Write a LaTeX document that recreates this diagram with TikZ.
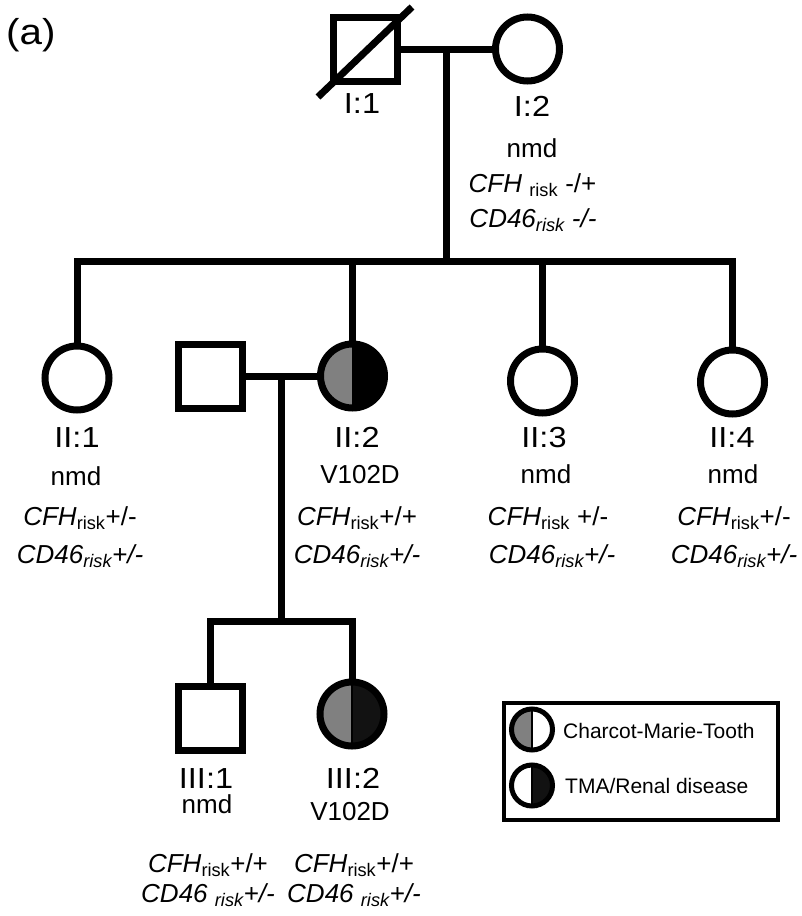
\documentclass[tikz,border=0pt]{standalone}
\usepackage{fontspec}
\setmainfont{Liberation Sans}
\newfontfamily\widefont[FakeStretch=1.12]{Liberation Sans}
\usetikzlibrary{calc}

\definecolor{cmtgray}{gray}{0.5}
\definecolor{tmablack}{gray}{0.07}

\tikzset{
  ped/.style={line width=7pt},
  person/.style={draw, line width=7pt, inner sep=0pt, minimum size=#1},
  male/.style={person=64pt, rectangle},
  female/.style={person=64pt, circle},
  keysym/.style={circle, draw, line width=5pt, inner sep=0pt, minimum size=41pt},
  halves/.style 2 args={path picture={
      \fill[#1] (path picture bounding box.south west) rectangle (path picture bounding box.north);
      \fill[#2] (path picture bounding box.south) rectangle (path picture bounding box.north east);
      \draw[line width=2pt] (path picture bounding box.north) -- (path picture bounding box.south);}},
  idlabel/.style={anchor=base, inner sep=0pt, font=\widefont\fontsize{29}{29}\selectfont},
  info/.style={anchor=base, inner sep=0pt, font=\fontsize{26}{26}\selectfont},
  keytext/.style={anchor=base west, inner sep=0pt, font=\fontsize{21}{21}\selectfont},
}

\newcommand{\cfh}[1]{\textit{CFH}\textsubscript{risk}#1}
\newcommand{\cdrisk}[1]{\textit{CD46\textsubscript{risk}#1}}

\begin{document}
\begin{tikzpicture}[x=1pt, y=-1pt]
  \useasboundingbox (0,0) rectangle (802,916);
  \node[anchor=base west, inner sep=0pt, font=\widefont\fontsize{36}{36}\selectfont] (tag) at (6,44) {(a)};

  % generation I
  \node[male] (i1) at (365,49) {};
  \node[female] (i2) at (527.5,49) {};
  \draw[ped] ([shift={(-47,48)}]i1.center) -- ([shift={(47,-42)}]i1.center);

  % generation II
  \node[female] (ii1) at (77,378) {};
  \node[male] (sp2) at (210,376) {};
  \node[female, halves={cmtgray}{black}] (ii2) at (352.5,376) {};
  \node[female] (ii3) at (542.5,381) {};
  \node[female] (ii4) at (732.5,382) {};

  % generation III
  \node[male] (iii1) at (210,718.5) {};
  \node[female, halves={cmtgray}{tmablack}] (iii2) at (352,714) {};

  % matings and sibships
  \coordinate (gen2) at (0,261.5);
  \coordinate (gen3) at (0,621.5);
  \coordinate (m1) at ($(i1.east)!0.5!(i2.west)$);
  \coordinate (m2) at ($(sp2.east)!0.5!(ii2.west)$);
  \draw[ped] (i1) -- (i2);
  \draw[ped] (m1) -- (m1 |- gen2);
  \draw[ped] (ii1.north) -- (ii1.north |- gen2) -- (ii4.north |- gen2) -- (ii4.north);
  \draw[ped] (ii2.north) -- (ii2.north |- gen2);
  \draw[ped] (ii3.north) -- (ii3.north |- gen2);
  \draw[ped] (sp2) -- (ii2);
  \draw[ped] (m2) -- (m2 |- gen3);
  \draw[ped] (iii1.north) -- (iii1.north |- gen3) -- (iii2.north |- gen3) -- (iii2.north);

  % labels
  \node[idlabel] (l-i1) at (362,113) {I:1};
  \node[idlabel] (l-i2) at (532,116) {I:2};
  \node[info] (g-i2) at (532,157) {nmd};
  \node[info] (f-i2) at (532.5,192) {\textit{CFH} \textsubscript{risk} -/+};
  \node[info] (c-i2) at (533,227) {\textit{CD46\textsubscript{risk} -/-}};

  \node[idlabel] (l-ii1) at (77,447) {II:1};
  \node[info] (g-ii1) at (76,485) {nmd};
  \node[info] (f-ii1) at (80,525) {\cfh{+/-}};
  \node[info] (c-ii1) at (80,563) {\cdrisk{+/-}};

  \node[idlabel] (l-ii2) at (357,447) {II:2};
  \node[info] (g-ii2) at (360,483) {V102D};
  \node[info] (f-ii2) at (357,525) {\cfh{+/+}};
  \node[info] (c-ii2) at (357,563) {\cdrisk{+/-}};

  \node[idlabel] (l-ii3) at (544,447) {II:3};
  \node[info] (g-ii3) at (546,483) {nmd};
  \node[info] (f-ii3) at (548,525) {\cfh{ +/-}};
  \node[info] (c-ii3) at (552,563) {\cdrisk{+/-}};

  \node[idlabel] (l-ii4) at (732,447) {II:4};
  \node[info] (g-ii4) at (733,483) {nmd};
  \node[info] (f-ii4) at (734,525) {\cfh{+/-}};
  \node[info] (c-ii4) at (734,563) {\cdrisk{+/-}};

  \node[idlabel] (l-iii1) at (206,788) {III:1};
  \node[info] (g-iii1) at (207,813) {nmd};
  \node[info] (f-iii1) at (208,872) {\cfh{+/+}};
  \node[info] (c-iii1) at (208,902) {\textit{CD46 \textsubscript{risk}+/-}};

  \node[idlabel] (l-iii2) at (353,788) {III:2};
  \node[info] (g-iii2) at (350,820) {V102D};
  \node[info] (f-iii2) at (354,872) {\cfh{+/+}};
  \node[info] (c-iii2) at (354,902) {\textit{CD46 \textsubscript{risk}+/-}};

  % key
  \node[draw, line width=4.5pt, inner sep=0pt, minimum width=274pt, minimum height=117pt] (key) at (641,761.5) {};
  \node[keysym, halves={cmtgray}{white}] (key-cmt) at (532,729.5) {};
  \node[keysym, halves={white}{tmablack}] (key-tma) at (532,785.5) {};
  \node[keytext] (t-cmt) at (563,738) {Charcot-Marie-Tooth};
  \node[keytext] (t-tma) at (565,793) {TMA/Renal disease};
\end{tikzpicture}
\end{document}
